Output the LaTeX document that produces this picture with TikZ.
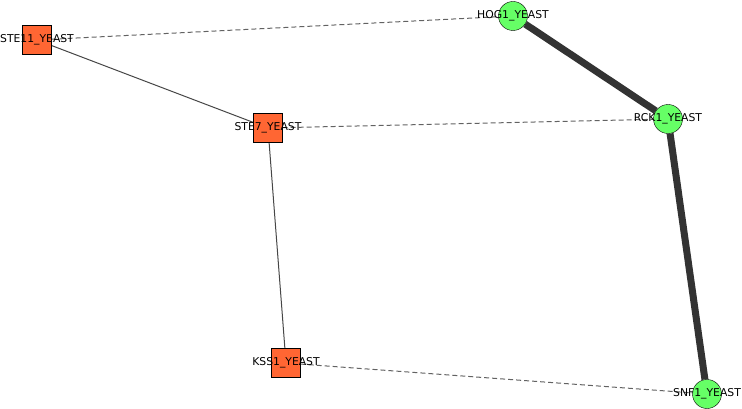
\documentclass[tikz,border=0pt]{standalone}
\usepackage{fontspec}
\setmainfont{DejaVu Sans}
\usepackage{tikz}
\usetikzlibrary{backgrounds}
\definecolor{kinaseOrange}{RGB}{255, 102, 51}
\definecolor{yeastGreen}{RGB}{102, 255, 102}
\definecolor{edgeGray}{RGB}{70, 70, 70}

\begin{document}
\begin{tikzpicture}[x=1pt, y=-1pt,
  kinase/.style={draw=black, fill=kinaseOrange, minimum size=29pt, inner sep=0pt},
  target/.style={circle, draw=black, fill=yeastGreen, minimum size=29pt, inner sep=0pt},
  protname/.style={font=\fontsize{10.8}{12}\selectfont, inner sep=0pt},
  solidlink/.style={draw=edgeGray, line width=1pt},
  dashlink/.style={draw=edgeGray!85, line width=1pt, dash pattern=on 5pt off 3pt},
  heavylink/.style={draw=black!80, line width=7pt}]
  \useasboundingbox (0,0) rectangle (742,409);

  \node[kinase, label={[protname]center:STE11\_YEAST}] (ste11) at (37,40) {};
  \node[kinase, label={[protname]center:STE7\_YEAST}] (ste7) at (268,128) {};
  \node[kinase, label={[protname]center:KSS1\_YEAST}] (kss1) at (286,363) {};
  \node[target, label={[protname]center:HOG1\_YEAST}] (hog1) at (513,16) {};
  \node[target, label={[protname]center:RCK1\_YEAST}] (rck1) at (668,119) {};
  \node[target, label={[protname]center:SNF1\_YEAST}] (snf1) at (707,394) {};

  \begin{scope}[on background layer]
    \draw[dashlink] (ste11) -- (hog1);
    \draw[solidlink] (ste11) -- (ste7);
    \draw[dashlink] (ste7) -- (rck1);
    \draw[solidlink] (ste7) -- (kss1);
    \draw[dashlink] (kss1) -- (snf1);
    \draw[heavylink] (hog1) -- (rck1);
    \draw[heavylink] (rck1) -- (snf1);
  \end{scope}
\end{tikzpicture}
\end{document}
